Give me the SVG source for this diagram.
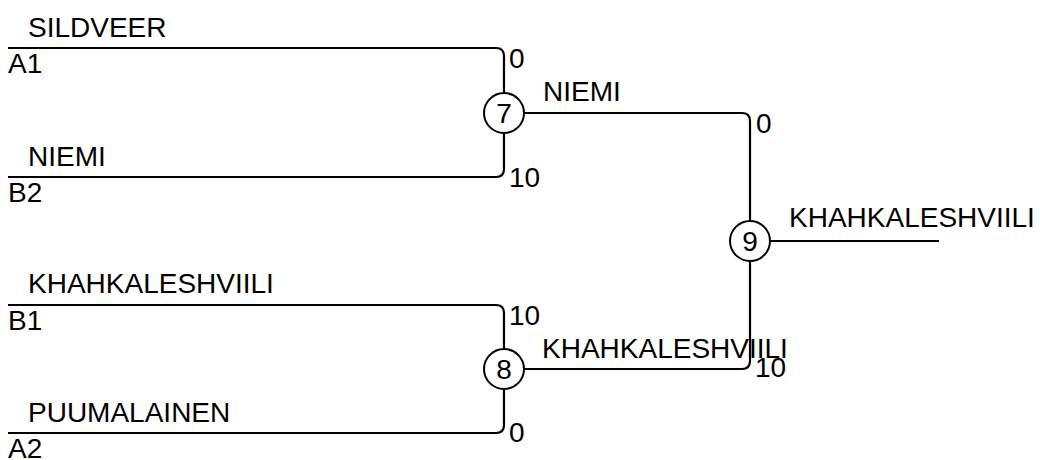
<svg xmlns="http://www.w3.org/2000/svg" width="1040" height="460" viewBox="0 0 1040 460">
<style>
  .ln { fill: none; stroke: #000; stroke-width: 2.2; }
  .nd { fill: #fff; stroke: #000; stroke-width: 2; }
  text { font-family: "Liberation Sans", Arial, sans-serif; font-size: 28px; fill: #000; }
  .c { text-anchor: middle; }
</style>
<rect width="1040" height="460" fill="#fff"/>
<g id="connectors">
  <path class="ln" d="M8,48 H496 Q504,48 504,56 V93"/>
  <path class="ln" d="M8,177 H496 Q504,177 504,169 V133"/>
  <path class="ln" d="M8,305 H496 Q504,305 504,313 V349"/>
  <path class="ln" d="M8,433 H496 Q504,433 504,425 V389"/>
  <path class="ln" d="M524,113 H742 Q750,113 750,121 V221"/>
  <path class="ln" d="M524,369 H742 Q750,369 750,361 V261"/>
  <path class="ln" d="M770,241 H939"/>
</g>
<g id="labels">
  <text x="28" y="37">SILDVEER</text>
  <text x="8" y="73">A1</text>
  <text x="509" y="68">0</text>
  <text x="28" y="166">NIEMI</text>
  <text x="8" y="202">B2</text>
  <text x="509" y="187">10</text>
  <text x="28" y="293">KHAHKALESHVIILI</text>
  <text x="8" y="330">B1</text>
  <text x="509" y="325">10</text>
  <text x="28" y="422">PUUMALAINEN</text>
  <text x="8" y="458">A2</text>
  <text x="509" y="442">0</text>
  <text x="543" y="101">NIEMI</text>
  <text x="756" y="133">0</text>
  <text x="542" y="358">KHAHKALESHVIILI</text>
  <text x="755" y="377">10</text>
  <text x="789" y="227">KHAHKALESHVIILI</text>
</g>
<g id="node7">
  <circle class="nd" cx="504" cy="113" r="20"/>
  <text class="c" x="504" y="123">7</text>
</g>
<g id="node8">
  <circle class="nd" cx="504" cy="369" r="20"/>
  <text class="c" x="504" y="379">8</text>
</g>
<g id="node9">
  <circle class="nd" cx="750" cy="241" r="20"/>
  <text class="c" x="750" y="251">9</text>
</g>
</svg>
